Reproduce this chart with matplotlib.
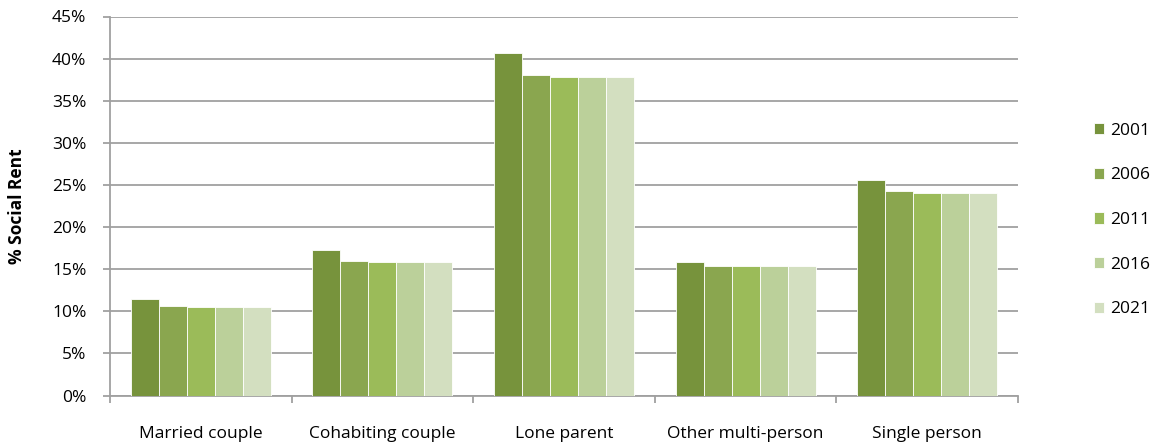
import numpy as np
import matplotlib.pyplot as plt
from matplotlib.ticker import PercentFormatter

# Data
categories = ['Married couple', 'Cohabiting couple', 'Lone parent',
              'Other multi-person', 'Single person']
years = ['2001', '2006', '2011', '2016', '2021']
v2001 = [11.4, 17.3, 40.7, 15.8, 25.6]
v2006 = [10.6, 16.0, 38.0, 15.4, 24.3]
v2011 = [10.5, 15.9, 37.8, 15.4, 24.1]
v2016 = [10.5, 15.9, 37.8, 15.4, 24.1]
v2021 = [10.5, 15.9, 37.8, 15.4, 24.1]
series = [v2001, v2006, v2011, v2016, v2021]

colors = ['#77933C', '#8AA64F', '#9BBB59', '#BBD09A', '#D3DFC0']
grey = '#A0A0A0'
fs = 12.5

plt.rcParams['font.family'] = ['Open Sans', 'DejaVu Sans']

fig = plt.figure(figsize=(11.53, 4.46), dpi=100)
ax = fig.add_axes([110 / 1153, 1 - 395.5 / 446, 908 / 1153, 379 / 446])

x = np.arange(len(categories))
w = 0.154
for i, (yr, vals) in enumerate(zip(years, series)):
    ax.bar(x + (i - 2) * w, vals, width=w, color=colors[i], label=yr,
           edgecolor='white', linewidth=0.6, zorder=3)

ax.set_xlim(-0.5, len(categories) - 0.5)
ax.set_ylim(0, 45)
ax.set_yticks(np.arange(0, 46, 5))
ax.yaxis.set_major_formatter(PercentFormatter(decimals=0))
ax.grid(axis='y', color=grey, linewidth=1.3, zorder=0)

ax.set_xticks(x)
ax.set_xticklabels(categories, fontsize=fs)
ax.set_xticks(np.arange(-0.5, len(categories)), minor=True)
ax.tick_params(axis='x', which='major', length=0, pad=22)
ax.tick_params(axis='x', which='minor', length=5, color=grey, width=1.3)
ax.tick_params(axis='y', length=5, color=grey, width=1.3, labelsize=fs, pad=12)

for s in ['top', 'right']:
    ax.spines[s].set_visible(False)
for s in ['left', 'bottom']:
    ax.spines[s].set_color(grey)
    ax.spines[s].set_linewidth(1.3)

ax.set_ylabel('% Social Rent', fontsize=fs, fontweight='bold')
ax.yaxis.set_label_coords(-0.093, 0.5)

ax.legend(loc='center left', bbox_to_anchor=(1.066, 0.463), frameon=False,
          fontsize=fs, handlelength=0.63, handleheight=0.63,
          handletextpad=0.35, labelspacing=1.65)

plt.savefig('out.png', dpi=100)
